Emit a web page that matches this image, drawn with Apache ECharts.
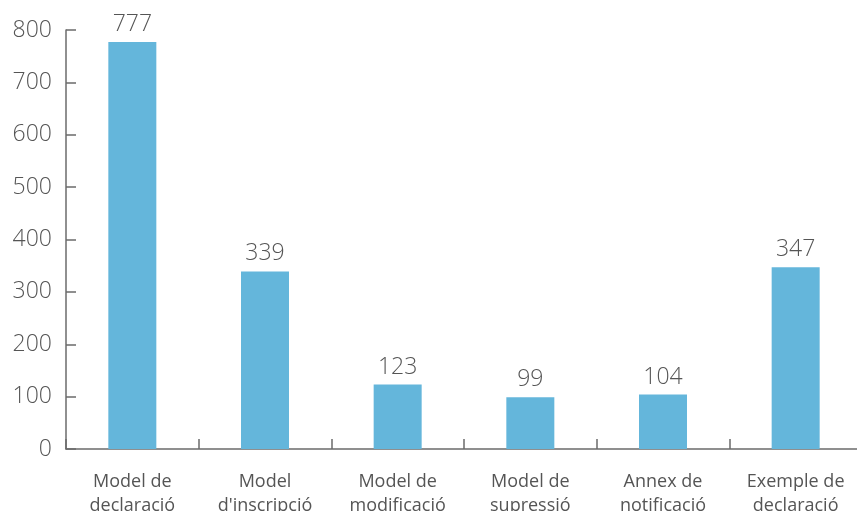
<!DOCTYPE html>
<html>
<head>
<meta charset="utf-8">
<script src="https://cdn.jsdelivr.net/npm/echarts@6/dist/echarts.min.js"></script>
<style>
  html, body { margin: 0; padding: 0; background: #ffffff; }
  #chart { width: 857px; height: 511px; }
</style>
</head>
<body>
<div id="chart"></div>
<script>
// Document downloads by type
const categories = [
  'Model de\ndeclaració',
  'Model\nd\'inscripció',
  'Model de\nmodificació',
  'Model de\nsupressió',
  'Annex de\nnotificació',
  'Exemple de\ndeclaració'
];
const downloads = [777, 339, 123, 99, 104, 347];
const yTicks = [0, 100, 200, 300, 400, 500, 600, 700, 800];

const FONT = '"Open Sans", sans-serif';
const AXIS_COLOR = '#6b6b6b';
const TEXT_COLOR = '#555555';

const chart = echarts.init(document.getElementById('chart'), null, { renderer: 'canvas' });

chart.setOption({
  animation: false,
  backgroundColor: '#ffffff',
  grid: {
    left: 66, right: -5, top: 30, bottom: 62,
    containLabel: false,
    outerBoundsMode: 'none'
  },
  xAxis: {
    type: 'category',
    data: categories,
    axisLine: { show: true, lineStyle: { color: AXIS_COLOR, width: 1.5 } },
    axisTick: { show: true, inside: true, length: 10, lineStyle: { color: AXIS_COLOR, width: 1.5 } },
    axisLabel: {
      color: TEXT_COLOR,
      fontFamily: FONT,
      fontSize: 18,
      lineHeight: 24,
      margin: 21,
      interval: 0
    }
  },
  yAxis: {
    type: 'value',
    min: yTicks[0],
    max: yTicks[yTicks.length - 1],
    interval: 100,
    axisLine: { show: true, lineStyle: { color: AXIS_COLOR, width: 1.5 } },
    axisTick: { show: true, inside: true, length: 10, lineStyle: { color: AXIS_COLOR, width: 1.5 } },
    splitLine: { show: false },
    axisLabel: {
      color: TEXT_COLOR,
      fontFamily: FONT,
      fontWeight: 300,
      fontSize: 23,
      margin: 14
    }
  },
  series: [{
    type: 'bar',
    data: downloads,
    barWidth: 48,
    itemStyle: { color: '#64b6db' },
    label: {
      show: true,
      position: 'top',
      distance: 6,
      color: TEXT_COLOR,
      fontFamily: FONT,
      fontWeight: 300,
      fontSize: 23
    }
  }]
});
</script>
</body>
</html>
